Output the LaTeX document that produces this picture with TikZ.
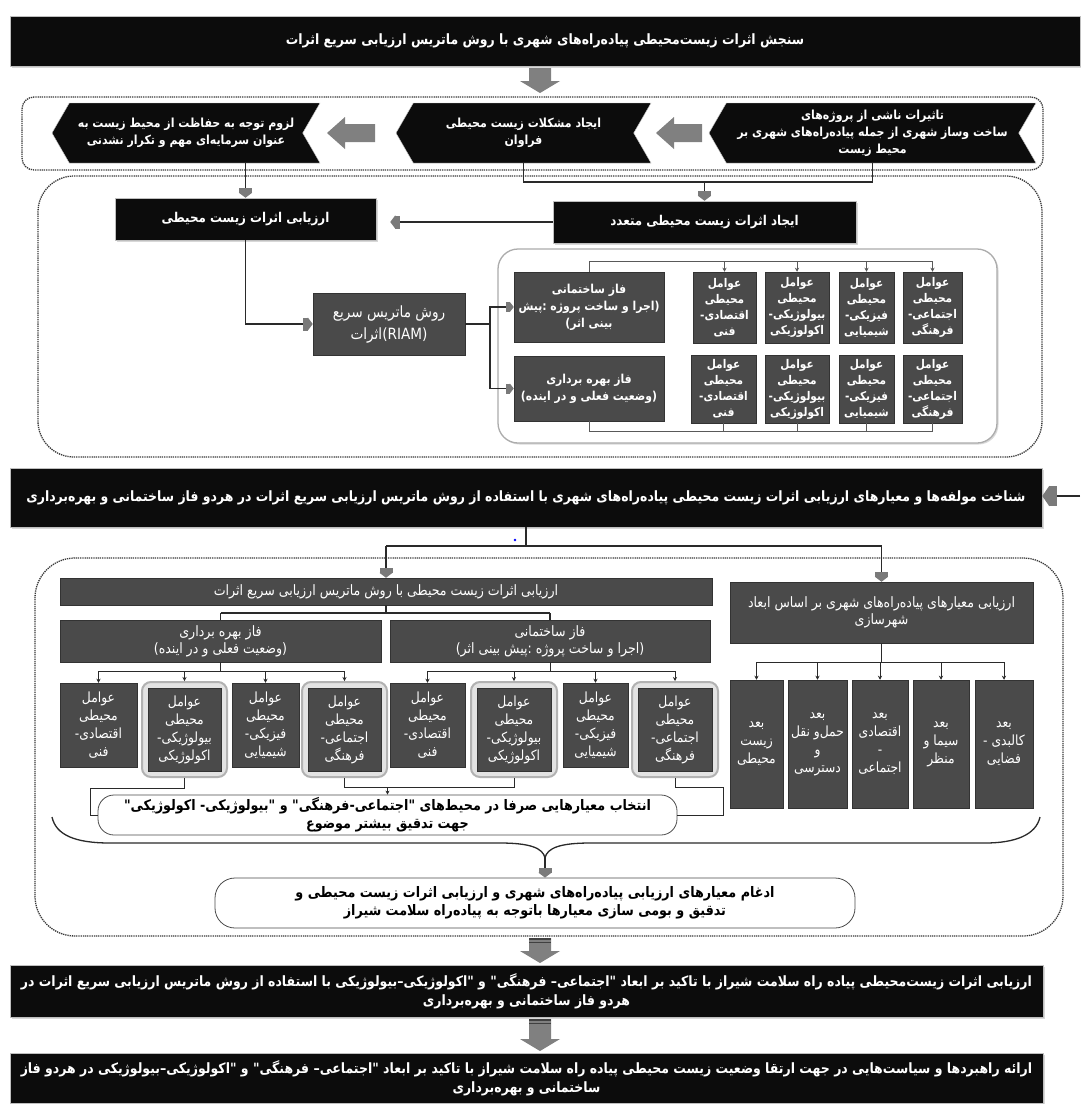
\documentclass[tikz,border=0pt]{standalone}
\usepackage{fontspec}
\usetikzlibrary{shapes.symbols,arrows.meta,shadows,calc}
\TeXXeTstate=1
\newfontfamily\fa[Script=Arabic,FakeStretch=0.88]{DejaVu Sans}
\newcommand\R[1]{\beginR #1\endR}
\definecolor{blk}{HTML}{0C0C0C}
\definecolor{dg}{HTML}{4A4A4A}
\definecolor{tipg}{HTML}{7A7A7A}
\definecolor{arrg}{HTML}{808080}
\definecolor{ln}{HTML}{2A2A2A}
\newcommand\blockdown[3]{\fill[arrg] (#1-11,#2) -- (#1+11,#2) -- (#1+11,#3-12) -- (#1+20,#3-12) -- (#1,#3) -- (#1-20,#3-12) -- (#1-11,#3-12) -- cycle;}
\newcommand\stripes[2]{\fill[black!75] (#1-11,#2) rectangle (#1+11,#2+2);\fill[black!75] (#1-11,#2+3.5) rectangle (#1+11,#2+5);}
\newcommand\blockleft[3]{\fill[arrg] (#2,#3-9) -- (#1+18,#3-9) -- (#1+18,#3-16) -- (#1,#3) -- (#1+18,#3+16) -- (#1+18,#3+9) -- (#2,#3+9) -- cycle;}
\tikzset{
 banner/.style={fill=blk, text=white, draw=gray!50, line width=0.5pt, inner sep=0pt, align=center, font=\fa\bfseries\fontsize{14.2}{19}\selectfont, drop shadow={opacity=0.3,shadow xshift=1.5pt,shadow yshift=-1.5pt}},
 chev/.style={signal, signal to=west, signal from=east, signal pointer angle=120, fill=blk, text=white, draw=gray!40, inner sep=0pt, minimum height=60, align=center, font=\fa\bfseries\fontsize{12.5}{17}\selectfont},
 gbox/.style={fill=dg, text=white, draw=gray!40!black, line width=0.5pt, inner sep=0pt, align=center, font=\fa\fontsize{14.3}{17}\selectfont, drop shadow={opacity=0.25,shadow xshift=1pt,shadow yshift=-1pt}},
 gboxb/.style={gbox, font=\fa\bfseries\fontsize{12.3}{17}\selectfont},
 fbox/.style={gbox, font=\fa\bfseries\fontsize{12}{16}\selectfont},
 sbox/.style={gbox, font=\fa\fontsize{14}{18}\selectfont},
 dbox/.style={gbox, font=\fa\fontsize{14}{18}\selectfont, minimum height=128},
 dotbox/.style={draw=gray!45!black, line width=1.3pt, dash pattern=on 1.3pt off 0.9pt},
 wbox/.style={draw=gray!60!black, line width=0.8pt, fill=white, rounded corners=16pt, align=center, inner sep=0pt, font=\fa\bfseries\fontsize{14.5}{18}\selectfont},
 glow/.style={draw=gray!60, line width=2pt, fill=gray!22, rounded corners=9pt, inner sep=0pt, minimum height=95},
 conn/.style={draw=ln, line width=1.3pt},
 thinc/.style={draw=ln, line width=0.8pt},
 tipD/.style={conn, -{Rectangle[length=5pt,width=13pt,color=tipg,sep=0pt]Triangle[length=5pt,width=13pt,color=tipg]}},
 tipS/.style={conn, -{Rectangle[length=4pt,width=10pt,color=tipg,sep=0pt]Triangle[length=4pt,width=10pt,color=tipg]}},
 smallT/.style={thinc, -{Stealth[length=4pt,width=4pt]}},
}
\begin{document}
\begin{tikzpicture}[x=1pt,y=-1pt]
\useasboundingbox (0,0) rectangle (1080,1104);
\fill[white] (0,0) rectangle (1080,1104);

% ---------- Banner 1
\node[banner, minimum width=1070, minimum height=50] (t1) at (545,41) {\R{سنجش اثرات زیست‌محیطی پیاده‌راه‌های شهری با روش ماتریس ارزیابی سریع اثرات}};
\blockdown{540}{68}{93}

% ---------- Box 1
\node[dotbox, rounded corners=12pt, minimum width=1021, minimum height=73] (db1) at (532.5,133.5) {};
\node[chev, minimum width=268] (c1) at (186,133) {\R{لزوم توجه به حفاظت از محیط زیست به}\\\R{عنوان سرمایه‌ای مهم و تکرار نشدنی}};
\node[chev, minimum width=255] (c2) at (523.5,133) {\R{ایجاد مشکلات زیست محیطی}\\\R{فراوان}};
\node[chev, minimum width=327] (c3) at (872.5,133) {\R{تاثیرات ناشی از پروژه‌های}\\\R{ساخت وساز شهری از جمله پیاده‌راه‌های شهری بر}\\\R{محیط زیست}};
\blockleft{327}{375}{133}
\blockleft{656}{702}{133}

% ---------- Box 2
\node[dotbox, rounded corners=36pt, minimum width=1004, minimum height=281] (db2) at (540,316.5) {};
\node[banner, font=\fa\bfseries\fontsize{13.5}{18}\selectfont, minimum width=261, minimum height=42] (ea) at (245.5,219) {\R{ارزیابی اثرات زیست محیطی}};
\node[banner, font=\fa\bfseries\fontsize{13.5}{18}\selectfont, minimum width=303, minimum height=42] (ij) at (704.5,222) {\R{ایجاد اثرات زیست محیطی متعدد}};
\coordinate (j1) at (0,182);
\draw[conn] (c2.south) -- (c2.south |- j1) -- (c3.south |- j1) -- (c3.south);
\draw[tipD] (ij.north |- j1) -- (ij.north);
\draw[tipD, shorten >=14pt] (ij.west) -- (ea.east |- ij.west);
\draw[tipD] (c1.south -| ea.north) -- (ea.north);

\node[draw=gray!65, line width=1.3pt, rounded corners=20pt, fill=white, minimum width=499, minimum height=194, drop shadow={opacity=0.3,shadow xshift=1.5pt,shadow yshift=-1.5pt}] (inner) at (747.5,346) {};
\node[gbox, font=\fa\fontsize{15.5}{22}\selectfont, minimum width=152, minimum height=62] (riam) at (389,324) {\R{روش ماتریس سریع}\\\R{اثرات}(RIAM)};
\node[gboxb, minimum width=150, minimum height=70] (ph1) at (589,307) {\R{فاز ساختمانی}\\\R{(اجرا و ساخت پروژه :پیش}\\\R{بینی اثر)}};
\node[gboxb, minimum width=150, minimum height=65] (ph2) at (589,388.5) {\R{فاز بهره برداری}\\\R{(وضعیت فعلی و در اینده)}};

\node[fbox, minimum width=63, minimum height=71] (a1) at (724.5,307.5) {\R{عوامل}\\\R{محیطی}\\\R{اقتصادی-}\\\R{فنی}};
\node[fbox, minimum width=64, minimum height=71] (a2) at (797,307.5) {\R{عوامل}\\\R{محیطی}\\\R{بیولوژیکی-}\\\R{اکولوژیکی}};
\node[fbox, minimum width=55, minimum height=71] (a3) at (866.5,307.5) {\R{عوامل}\\\R{محیطی}\\\R{فیزیکی-}\\\R{شیمیایی}};
\node[fbox, minimum width=59, minimum height=71] (a4) at (932.5,307.5) {\R{عوامل}\\\R{محیطی}\\\R{اجتماعی-}\\\R{فرهنگی}};
\node[fbox, minimum width=65, minimum height=68] (b1) at (723.5,389) {\R{عوامل}\\\R{محیطی}\\\R{اقتصادی-}\\\R{فنی}};
\node[fbox, minimum width=64, minimum height=68] (b2) at (797,389) {\R{عوامل}\\\R{محیطی}\\\R{بیولوژیکی-}\\\R{اکولوژیکی}};
\node[fbox, minimum width=55, minimum height=68] (b3) at (866.5,389) {\R{عوامل}\\\R{محیطی}\\\R{فیزیکی-}\\\R{شیمیایی}};
\node[fbox, minimum width=59, minimum height=68] (b4) at (932.5,389) {\R{عوامل}\\\R{محیطی}\\\R{اجتماعی-}\\\R{فرهنگی}};

\draw[tipD] (ea.south) |- (riam.west);
\coordinate (rj) at (490,324);
\draw[thinc, line width=1.1pt] (riam.east) -- (rj);
\draw[tipS, line width=1.1pt] (rj) |- (ph1.west);
\draw[tipS, line width=1.1pt] (rj) |- (ph2.west);
\coordinate (tl) at (0,261);
\draw[thinc, draw=gray!70!black] (ph1.north) -- (ph1.north |- tl) -- (a4.north |- tl);
\foreach \n in {a1,a2,a3,a4} \draw[smallT, draw=gray!70!black] (\n.north |- tl) -- (\n.north);
\coordinate (bl) at (0,431);
\draw[thinc, draw=gray!70!black] (ph2.south) -- (ph2.south |- bl) -- (b4.south |- bl);
\foreach \n in {b1,b2,b3,b4} \draw[thinc, draw=gray!70!black] (\n.south |- bl) -- (\n.south);

% ---------- Banner 2
\node[banner, minimum width=1032, minimum height=59] (h2) at (526,497.5) {\R{شناخت مولفه‌ها و معیارهای ارزیابی اثرات زیست محیطی پیاده‌راه‌های شهری با استفاده از روش ماتریس ارزیابی سریع اثرات در هردو فاز ساختمانی و بهره‌برداری}};
\coordinate (rin) at (1080,496);
\draw[conn, -{Rectangle[length=8pt,width=20pt,color=tipg,sep=0pt]Triangle[length=7pt,width=20pt,color=tipg]}] (rin) -- (h2.east |- rin);
\fill[blue] (515,540) circle (1.3);

% ---------- Box 3
\node[dotbox, rounded corners=40pt, minimum width=1028, minimum height=378] (db3) at (549,747) {};
\node[gbox, minimum width=652, minimum height=27] (A) at (386,591.5) {\R{ارزیابی اثرات زیست محیطی با روش ماتریس ارزیابی سریع اثرات}};
\node[gbox, minimum width=303, minimum height=61] (C) at (881.5,612.5) {\R{ارزیابی معیارهای پیاده‌راه‌های شهری بر اساس ابعاد}\\\R{شهرسازی}};
\coordinate (hj) at (0,546);
\draw[conn] (h2.south) -- (h2.south |- hj);
\draw[conn] (A.north |- hj) -- (C.north |- hj);
\draw[tipD] (A.north |- hj) -- (A.north);
\draw[tipD] (C.north |- hj) -- (C.north);

\node[gbox, minimum width=321, minimum height=42] (B1) at (220.5,641) {\R{فاز بهره برداری}\\\R{(وضعیت فعلی و در اینده)}};
\node[gbox, minimum width=320, minimum height=42] (B2) at (550,641) {\R{فاز ساختمانی}\\\R{(اجرا و ساخت پروژه :پیش بینی اثر)}};
\coordinate (ab) at (0,613);
\draw[conn] (A.south) -- (A.south |- ab);
\draw[conn] (B1.north |- ab) -- (B2.north |- ab);
\draw[conn] (B1.north |- ab) -- (B1.north);
\draw[conn] (B2.north |- ab) -- (B2.north);

\node[sbox, minimum width=77, minimum height=84] (f1) at (98.5,725) {\R{عوامل}\\\R{محیطی}\\\R{اقتصادی-}\\\R{فنی}};
\node[glow, minimum width=85] (hf2) at (184.5,729.5) {};
\node[sbox, minimum width=73, minimum height=83] (f2) at (184.5,729.5) {\R{عوامل}\\\R{محیطی}\\\R{بیولوژیکی-}\\\R{اکولوژیکی}};
\node[sbox, minimum width=67, minimum height=84] (f3) at (265.5,725) {\R{عوامل}\\\R{محیطی}\\\R{فیزیکی-}\\\R{شیمیایی}};
\node[glow, minimum width=85] (hf4) at (344.5,729.5) {};
\node[sbox, minimum width=73, minimum height=83] (f4) at (344.5,729.5) {\R{عوامل}\\\R{محیطی}\\\R{اجتماعی-}\\\R{فرهنگی}};

\node[sbox, minimum width=75, minimum height=84] (g1) at (427.5,725) {\R{عوامل}\\\R{محیطی}\\\R{اقتصادی-}\\\R{فنی}};
\node[glow, minimum width=86] (hg2) at (514,729.5) {};
\node[sbox, minimum width=74, minimum height=83] (g2) at (514,729.5) {\R{عوامل}\\\R{محیطی}\\\R{بیولوژیکی-}\\\R{اکولوژیکی}};
\node[sbox, minimum width=65, minimum height=84] (g3) at (595.5,725) {\R{عوامل}\\\R{محیطی}\\\R{فیزیکی-}\\\R{شیمیایی}};
\node[glow, minimum width=86] (hg4) at (675,729.5) {};
\node[sbox, minimum width=74, minimum height=83] (g4) at (675,729.5) {\R{عوامل}\\\R{محیطی}\\\R{اجتماعی-}\\\R{فرهنگی}};

\coordinate (bb) at (0,671);
\draw[thinc] (B1.south) -- (B1.south |- bb);
\draw[thinc] (f1.north |- bb) -- (f4.north |- bb);
\foreach \n in {f1,hf2,f3,hf4} \draw[smallT] (\n.north |- bb) -- (\n.north);
\draw[thinc] (B2.south) -- (B2.south |- bb);
\draw[thinc] (g1.north |- bb) -- (g4.north |- bb);
\foreach \n in {g1,hg2,g3,hg4} \draw[smallT] (\n.north |- bb) -- (\n.north);

\node[dbox, minimum width=53] (d1) at (756.5,744) {\R{بعد}\\\R{زیست}\\\R{محیطی}};
\node[dbox, minimum width=59] (d2) at (817.5,744) {\R{بعد}\\\R{حمل‌و نقل}\\\R{و}\\\R{دسترسی}};
\node[dbox, minimum width=56] (d3) at (880,744) {\R{بعد}\\\R{اقتصادی}\\-\\\R{اجتماعی}};
\node[dbox, minimum width=56] (d4) at (941,744) {\R{بعد}\\\R{سیما و}\\\R{منظر}};
\node[dbox, minimum width=58] (d5) at (1004,744) {\R{بعد}\\\R{کالبدی -}\\\R{فضایی}};
\coordinate (cb) at (0,662);
\draw[thinc] (C.south) -- (C.south |- cb);
\draw[thinc] (d1.north |- cb) -- (d5.north |- cb);
\foreach \n in {d1,d2,d3,d4,d5} \draw[smallT] (\n.north |- cb) -- (\n.north);

\node[wbox, minimum width=579, minimum height=40] (sel) at (387.5,815) {\R{انتخاب معیارهایی صرفا در محیط‌های "اجتماعی-فرهنگی" و "بیولوژیکی- اکولوژیکی"}\\\R{جهت تدقیق بیشتر موضوع}};
\draw[thinc] (hf2.south) -- ++(0,10) -| ($(sel.west)+(-7,0)$) -- (sel.west);
\draw[thinc] (hf4.south) -- (hf4.south |- 0,787) -- (hg2.south |- 0,787) -- (hg2.south);
\draw[smallT] (sel.north |- 0,787) -- (sel.north);
\draw[thinc] (hg4.south) -- (hg4.south |- 0,787) -| ($(sel.east)+(46,0)$) -- (sel.east);

% brace
\draw[conn] (52,817) .. controls (56,835) and (75,843) .. (110,843) -- (500,843) .. controls (530,843) and (543,848) .. (545,858);
\draw[conn] (1040,817) .. controls (1036,835) and (1015,843) .. (985,843) -- (590,843) .. controls (560,843) and (547,848) .. (545,858);
\coordinate (bc) at (545,857);
\node[wbox, rounded corners=20pt, minimum width=640, minimum height=50] (merge) at (535,903) {\R{ادغام معیارهای ارزیابی پیاده‌راه‌های شهری و ارزیابی اثرات زیست محیطی و}\\\R{تدقیق و بومی سازی معیارها باتوجه به پیاده‌راه سلامت شیراز}};
\draw[tipD] (bc) -- (bc |- merge.north);

% ---------- bottom banners
\blockdown{540}{938}{963}\stripes{540}{938}
\node[banner, minimum width=1033, minimum height=52] (t3) at (526.5,991) {\R{ارزیابی  اثرات زیست‌محیطی پیاده راه سلامت شیراز با تاکید بر ابعاد "اجتماعی– فرهنگی" و "اکولوژیکی–بیولوژیکی با استفاده از روش ماتریس ارزیابی سریع اثرات در}\\\R{هردو فاز ساختمانی و بهره‌برداری}};
\blockdown{540}{1019}{1051}\stripes{540}{1019}
\node[banner, minimum width=1033, minimum height=50] (t4) at (526.5,1078) {\R{ارائه راهبردها و سیاست‌هایی در جهت ارتقا وضعیت زیست محیطی پیاده راه سلامت شیراز با تاکید بر ابعاد "اجتماعی– فرهنگی" و "اکولوژیکی–بیولوژیکی در هردو فاز}\\\R{ساختمانی و بهره‌برداری}};
\end{tikzpicture}
\end{document}
